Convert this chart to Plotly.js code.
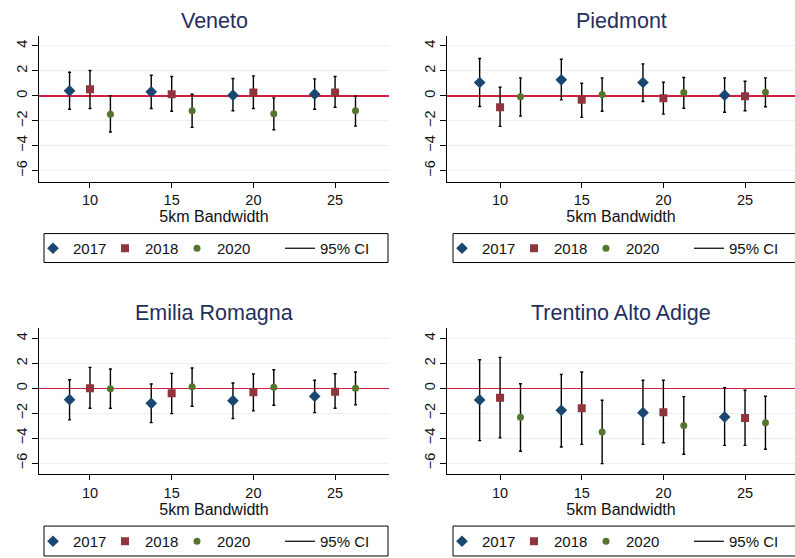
<!DOCTYPE html>
<html>
<head>
<meta charset="utf-8">
<script src="https://cdn.plot.ly/plotly-3.0.1.min.js"></script>
<style>html,body{margin:0;padding:0;background:#fff;}#chart{width:795px;height:558px;}</style>
</head>
<body>
<div id="chart"></div>
<script>
// ---------------- DATA ----------------
const bandwidths = [10, 15, 20, 25];
const years = ["2017", "2018", "2020"];
const regions = ["Veneto", "Piedmont", "Emilia Romagna", "Trentino Alto Adige"];
const xAxisTitle = "5km Bandwidth";
const ciLabel = "95% CI";
const yTicks = [-6, -4, -2, 0, 2, 4];
const xTicks = [10, 15, 20, 25];

// Veneto
const veneto_est_2017 = [0.40, 0.32, 0.05, 0.13];
const veneto_lo_2017  = [-1.07, -1.01, -1.20, -1.07];
const veneto_hi_2017  = [1.89, 1.65, 1.39, 1.36];
const veneto_est_2018 = [0.53, 0.13, 0.27, 0.27];
const veneto_lo_2018  = [-1.01, -1.23, -1.01, -0.91];
const veneto_hi_2018  = [2.03, 1.55, 1.60, 1.55];
const veneto_est_2020 = [-1.47, -1.20, -1.44, -1.20];
const veneto_lo_2020  = [-2.90, -2.53, -2.72, -2.43];
const veneto_hi_2020  = [0.00, 0.13, -0.16, -0.03];

// Piedmont
const piedmont_est_2017 = [1.07, 1.28, 1.07, 0.05];
const piedmont_lo_2017  = [-0.85, -0.32, -0.45, -1.31];
const piedmont_hi_2017  = [2.99, 2.93, 2.56, 1.44];
const piedmont_est_2018 = [-0.91, -0.32, -0.19, -0.03];
const piedmont_lo_2018  = [-2.45, -1.73, -1.47, -1.20];
const piedmont_hi_2018  = [0.69, 1.01, 1.09, 1.17];
const piedmont_est_2020 = [-0.08, 0.11, 0.27, 0.29];
const piedmont_lo_2020  = [-1.63, -1.23, -0.99, -0.88];
const piedmont_hi_2020  = [1.44, 1.44, 1.47, 1.44];

// Emilia Romagna
const emilia_est_2017 = [-0.91, -1.20, -0.99, -0.64];
const emilia_lo_2017  = [-2.53, -2.75, -2.43, -1.95];
const emilia_hi_2017  = [0.69, 0.35, 0.43, 0.64];
const emilia_est_2018 = [0.00, -0.40, -0.32, -0.27];
const emilia_lo_2018  = [-1.60, -2.03, -1.81, -1.60];
const emilia_hi_2018  = [1.68, 1.20, 1.15, 1.17];
const emilia_est_2020 = [-0.03, 0.13, 0.08, 0.00];
const emilia_lo_2020  = [-1.60, -1.44, -1.36, -1.33];
const emilia_hi_2020  = [1.55, 1.63, 1.49, 1.31];

// Trentino Alto Adige
const trentino_est_2017 = [-0.93, -1.76, -1.95, -2.29];
const trentino_lo_2017  = [-4.19, -4.71, -4.49, -4.57];
const trentino_hi_2017  = [2.29, 1.12, 0.64, 0.05];
const trentino_est_2018 = [-0.75, -1.60, -1.92, -2.39];
const trentino_lo_2018  = [-3.97, -4.49, -4.36, -4.57];
const trentino_hi_2018  = [2.48, 1.31, 0.64, -0.16];
const trentino_est_2020 = [-2.32, -3.51, -2.98, -2.77];
const trentino_lo_2020  = [-5.05, -6.04, -5.29, -4.89];
const trentino_hi_2020  = [0.37, -0.96, -0.67, -0.64];

// ---------------- STYLE ----------------
const FONT = "Liberation Sans, Arial, sans-serif";
const seriesStyle = [
  {color: "#1a476f", symbol: "diamond", size: 9, offset: -1.25, legW: 27},
  {color: "#90353b", symbol: "square", size: 8, offset: 0, legW: 27},
  {color: "#55752f", symbol: "circle", size: 7, offset: 1.25, legW: 58}
];
const W = 795, H = 558;
const panels = [
  {est: [veneto_est_2017, veneto_est_2018, veneto_est_2020],
   lo: [veneto_lo_2017, veneto_lo_2018, veneto_lo_2020],
   hi: [veneto_hi_2017, veneto_hi_2018, veneto_hi_2020],
   px: [39, 389], py: [36, 182], xr: [6.88, 28.3], box: [44, 388, 234, 263]},
  {est: [piedmont_est_2017, piedmont_est_2018, piedmont_est_2020],
   lo: [piedmont_lo_2017, piedmont_lo_2018, piedmont_lo_2020],
   hi: [piedmont_hi_2017, piedmont_hi_2018, piedmont_hi_2020],
   px: [447, 795], py: [36, 182], xr: [6.75, 28.06], box: [453, 797, 234, 263]},
  {est: [emilia_est_2017, emilia_est_2018, emilia_est_2020],
   lo: [emilia_lo_2017, emilia_lo_2018, emilia_lo_2020],
   hi: [emilia_hi_2017, emilia_hi_2018, emilia_hi_2020],
   px: [39, 389], py: [329, 475], xr: [6.88, 28.3], box: [44, 388, 527, 557]},
  {est: [trentino_est_2017, trentino_est_2018, trentino_est_2020],
   lo: [trentino_lo_2017, trentino_lo_2018, trentino_lo_2020],
   hi: [trentino_hi_2017, trentino_hi_2018, trentino_hi_2020],
   px: [447, 795], py: [329, 475], xr: [6.75, 28.06], box: [453, 797, 527, 557]}
];

const traces = [];
const layout = {
  width: W, height: H,
  margin: {l: 0, r: 0, t: 0, b: 0},
  paper_bgcolor: "#fff", plot_bgcolor: "#fff",
  font: {family: FONT, size: 15, color: "#111"},
  showlegend: true,
  annotations: [],
  shapes: [],
  hovermode: false
};

panels.forEach((p, i) => {
  const n = i + 1;
  const xa = n === 1 ? "x" : "x" + n;
  const ya = n === 1 ? "y" : "y" + n;
  const leg = n === 1 ? "legend" : "legend" + n;
  years.forEach((yr, s) => {
    const st = seriesStyle[s];
    traces.push({
      type: "scatter", mode: "markers",
      name: yr, legend: leg, legendwidth: st.legW,
      xaxis: xa, yaxis: ya,
      x: bandwidths.map(b => b + st.offset),
      y: p.est[s],
      marker: {symbol: st.symbol, size: st.size, color: st.color},
      error_y: {
        type: "data", symmetric: false,
        array: p.hi[s].map((h, k) => h - p.est[s][k]),
        arrayminus: p.lo[s].map((l, k) => p.est[s][k] - l),
        color: "#000", thickness: 1.4, width: 1.5
      }
    });
  });
  traces.push({
    type: "scatter", mode: "lines", name: ciLabel, legend: leg, legendwidth: 60,
    xaxis: xa, yaxis: ya, x: [null], y: [null],
    line: {color: "#000", width: 1.2}
  });

  const xkey = n === 1 ? "xaxis" : "xaxis" + n;
  const ykey = n === 1 ? "yaxis" : "yaxis" + n;
  layout[xkey] = {
    domain: [p.px[0] / W, p.px[1] / W],
    range: p.xr, anchor: ya,
    tickvals: xTicks, ticks: "outside", ticklen: 5, tickcolor: "#000",
    showline: true, linecolor: "#000", linewidth: 1,
    showgrid: false, zeroline: false,
    tickfont: {size: 14.5, color: "#111", family: FONT},
    title: {text: xAxisTitle, font: {size: 16, color: "#111", family: FONT}, standoff: 2},
    automargin: false, fixedrange: true
  };
  layout[ykey] = {
    domain: [1 - p.py[1] / H, 1 - p.py[0] / H],
    range: [-6.88, 4.8], anchor: xa,
    tickvals: yTicks, ticks: "outside", ticklen: 6, tickcolor: "#000",
    tickangle: -90, ticklabelstandoff: -1,
    showline: true, linecolor: "#000", linewidth: 1,
    showgrid: true, gridcolor: "#e8f0f2", gridwidth: 1,
    zeroline: true, zerolinecolor: "#d21e45", zerolinewidth: 1.5,
    tickfont: {size: 14.5, color: "#111", family: FONT},
    automargin: false, fixedrange: true
  };
  const b = p.box;
  layout[leg] = {
    orientation: "h",
    x: (b[0] - 11) / W, y: 1 - ((b[2] + b[3]) / 2) / H, xanchor: "left", yanchor: "middle",
    borderwidth: 0, bgcolor: "rgba(0,0,0,0)",
    font: {size: 15, color: "#111", family: FONT},
    entrywidthmode: "pixels",
    itemclick: false, itemdoubleclick: false
  };
  layout.shapes.push({
    type: "rect", xref: "paper", yref: "paper", layer: "below",
    x0: b[0] / W, x1: b[1] / W, y0: 1 - b[3] / H, y1: 1 - b[2] / H,
    line: {color: "#000", width: 1}, fillcolor: "rgba(0,0,0,0)"
  });
  layout.annotations.push({
    text: regions[i], showarrow: false,
    xref: xa + " domain", x: 0.5, xanchor: "center",
    yref: "paper", y: 1 - (p.py[0] - 15) / H, yanchor: "middle",
    font: {size: 21.5, color: "#1f2f5e", family: FONT}
  });
});

Plotly.newPlot("chart", traces, layout, {staticPlot: true, displayModeBar: false});
</script>
</body>
</html>
